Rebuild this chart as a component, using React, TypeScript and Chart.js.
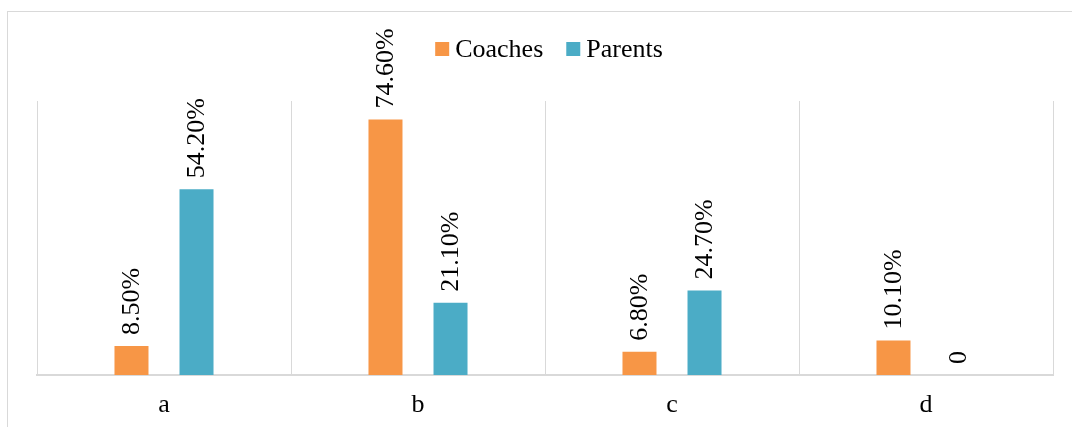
import React, { useEffect, useRef } from "react";
import { Chart, registerables } from "chart.js";

Chart.register(...registerables);

const categories = ["a", "b", "c", "d"];
const coachesValues = [8.5, 74.6, 6.8, 10.1];
const parentsValues = [54.2, 21.1, 24.7, 0];
const coachesLabels = ["8.50%", "74.60%", "6.80%", "10.10%"];
const parentsLabels = ["54.20%", "21.10%", "24.70%", "0"];
const seriesNames = ["Coaches", "Parents"];
const seriesColors = ["#F79646", "#4BACC6"];

const FONT = '"Liberation Serif", "Times New Roman", serif';
const FONT_SIZE = 26;

const labelPlugin = {
  id: "rotLabels",
  afterDatasetsDraw(chart: any) {
    const ctx = chart.ctx;
    const allLabels = [coachesLabels, parentsLabels];
    ctx.save();
    ctx.font = `${FONT_SIZE}px ${FONT}`;
    ctx.fillStyle = "#000000";
    ctx.textAlign = "left";
    ctx.textBaseline = "middle";
    chart.data.datasets.forEach((ds: any, di: number) => {
      const meta = chart.getDatasetMeta(di);
      meta.data.forEach((bar: any, i: number) => {
        ctx.save();
        ctx.translate(bar.x + 1, bar.y - 11);
        ctx.rotate(-Math.PI / 2);
        ctx.fillText(allLabels[di][i], 0, 0);
        ctx.restore();
      });
    });
    ctx.restore();
  },
};

const legendPlugin = {
  id: "customLegend",
  afterDraw(chart: any) {
    const ctx = chart.ctx;
    ctx.save();
    ctx.font = `${FONT_SIZE}px ${FONT}`;
    ctx.textBaseline = "middle";
    ctx.textAlign = "left";
    const box = 14;
    const gapBoxText = 6;
    const gapItems = 23;
    const widths = seriesNames.map((n) => ctx.measureText(n).width);
    const total =
      widths.reduce((a, b) => a + b, 0) + seriesNames.length * (box + gapBoxText) + gapItems * (seriesNames.length - 1);
    let x = 549 - total / 2;
    const cy = 49;
    seriesNames.forEach((n, i) => {
      ctx.fillStyle = seriesColors[i];
      ctx.fillRect(x, cy - box / 2, box, box);
      x += box + gapBoxText;
      ctx.fillStyle = "#000000";
      ctx.fillText(n, x, cy + 1);
      x += widths[i] + gapItems;
    });
    ctx.restore();
  },
};

export default function App() {
  const ref = useRef<HTMLCanvasElement | null>(null);
  useEffect(() => {
    document.body.style.margin = "0";
    if (!ref.current) return;
    const chart = new Chart(ref.current, {
      type: "bar",
      data: {
        labels: categories,
        datasets: [
          {
            label: seriesNames[0],
            data: coachesValues,
            backgroundColor: seriesColors[0],
            categoryPercentage: 0.512,
            barPercentage: 0.523,
          },
          {
            label: seriesNames[1],
            data: parentsValues,
            backgroundColor: seriesColors[1],
            categoryPercentage: 0.512,
            barPercentage: 0.523,
          },
        ],
      },
      options: {
        animation: false,
        responsive: false,
        devicePixelRatio: 1,
        layout: { padding: { left: 37, right: 19, top: 101, bottom: 0 } },
        plugins: {
          legend: { display: false },
          tooltip: { enabled: false },
        },
        scales: {
          x: {
            grid: { color: "#d9d9d9", drawTicks: false, offset: true, lineWidth: 1 },
            border: { color: "#d9d9d9", width: 2 },
            ticks: {
              color: "#000000",
              font: { family: FONT, size: FONT_SIZE },
              padding: 15,
            },
            afterFit: (scale: any) => {
              scale.height = 52;
            },
          },
          y: {
            display: false,
            min: 0,
            max: 80,
          },
        },
      },
      plugins: [labelPlugin, legendPlugin],
    });
    return () => chart.destroy();
  }, []);
  return (
    <div style={{ position: "relative", width: 1072, height: 427, overflow: "hidden", background: "#fff" }}>
      <div
        style={{
          position: "absolute",
          left: 7,
          top: 11,
          width: 1200,
          height: 600,
          border: "1px solid #d9d9d9",
          boxSizing: "border-box",
        }}
      />
      <canvas ref={ref} width={1072} height={427} style={{ position: "absolute", left: 0, top: 0, width: 1072, height: 427 }} />
    </div>
  );
}
